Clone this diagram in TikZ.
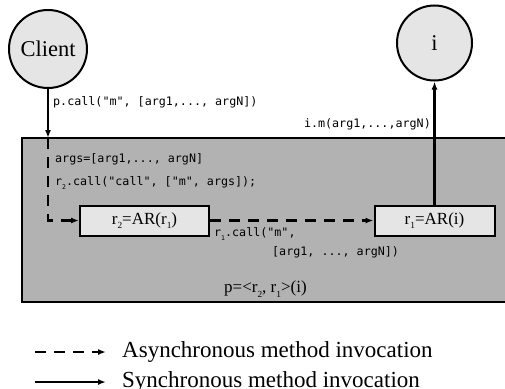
\documentclass[tikz,border=0pt]{standalone}
\usepackage{fontspec}
\setmainfont{Liberation Serif}
\setmonofont{DejaVu Sans Mono}
\usetikzlibrary{arrows.meta}
\newcommand\sbs[1]{\raisebox{-0.6ex}{\scalebox{0.55}{#1}}}
\begin{document}
\begin{tikzpicture}[x=1pt,y=-1pt,
  actor/.style={circle,draw,line width=2pt,fill=black!10,minimum size=#1,inner sep=0pt,font=\fontsize{22.5}{26}\selectfont},
  arbox/.style={draw,line width=2pt,fill=black!10,minimum width=#1,minimum height=30pt,inner sep=0pt,font=\fontsize{17}{20}\selectfont},
  code/.style={anchor=west,inner sep=0pt,font=\ttfamily\fontsize{11.7}{14}\selectfont},
  serif/.style={anchor=west,inner sep=0pt,font=\fontsize{#1}{24}\selectfont},
  sync/.style={line width=2.6pt,-{Latex[length=8pt,width=6pt]}},
  async/.style={line width=2.8pt,dash pattern=on 11pt off 8pt,-{Latex[length=8pt,width=6pt]}}]
\useasboundingbox (0,0) rectangle (505,388);
% container
\fill[black!30] (22,138) rectangle (506,302);
\draw[line width=2pt] (506,138) -- (22,138) -- (22,302) -- (506,302);
% actors
\node[actor=78pt] (client) at (48,49) {Client};
\node[actor=75pt] (i) at (434.5,43) {i};
\node[arbox=129pt] (r2) at (144.5,220.5) {r\sbs{2}=AR(r\sbs{1})};
\node[arbox=120pt] (r1) at (434.5,220.5) {r\sbs{1}=AR(i)};
\coordinate (enter) at (48,138);
% connectors
\draw[sync] (client) -- (enter);
\draw[async] (enter) |- (r2.west);
\draw[async] (r2.east) -- (r1.west);
\draw[sync] (r1.north) -- (i.south);
% labels
\node[code] (l1) at (53,102) {p.call("m", [arg1,..., argN])};
\node[code,anchor=east] (l2) at (431,124) {i.m(arg1,...,argN)};
\node[code] (l3) at (55,159) {args=[arg1,..., argN]};
\node[code] (l4) at (55,183) {r\sbs{2}.call("call", ["m", args]);};
\node[code] (l5) at (214,234) {r\sbs{1}.call("m",};
\node[code] (l6) at (272,252) {[arg1, ..., argN])};
\node[serif=17] (p) at (224,289) {p=<r\sbs{2}, r\sbs{1}>(i)};
% legend
\coordinate (a1) at (35,352);
\coordinate (a2) at (106,352);
\coordinate (s1) at (35,382);
\coordinate (s2) at (106,382);
\draw[async] (a1) -- (a2);
\draw[sync] (s1) -- (s2);
\node[serif=23] (la) at (122,352) {Asynchronous method invocation};
\node[serif=23] (ls) at (122,382) {Synchronous method invocation};
\end{tikzpicture}
\end{document}
